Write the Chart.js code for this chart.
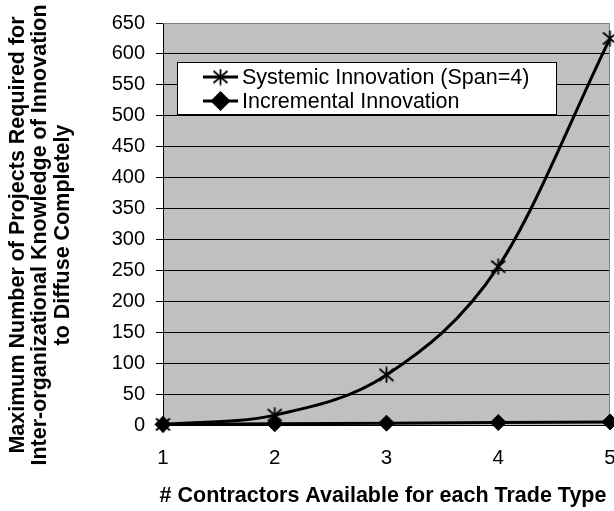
<!DOCTYPE html>
<html><head><meta charset="utf-8">
<script src="https://cdn.jsdelivr.net/npm/chart.js@4.4.1/dist/chart.umd.min.js"></script>
<style>html,body{margin:0;padding:0;background:#fff;overflow:hidden}#wrap{width:614px;height:511px;position:relative}canvas{display:block}</style>
</head><body><div id="wrap"><canvas id="c" width="614" height="511"></canvas></div>
<script>
// ---- data ----
const contractors = [1, 2, 3, 4, 5];
const systemicValues = [1, 16, 81, 256, 625];
const incrementalValues = [1, 2, 3, 4, 5];
const seriesNames = ['Systemic Innovation (Span=4)', 'Incremental Innovation'];
const yTickValues = [0, 50, 100, 150, 200, 250, 300, 350, 400, 450, 500, 550, 600, 650];
const xTickValues = [1, 2, 3, 4, 5];
const xTitle = '# Contractors Available for each Trade Type';
const yTitleLines = ['Maximum Number of Projects Required for', 'Inter-organizational Knowledge of Innovation', 'to Diffuse Completely'];

const FONT = "'Liberation Sans', Arial, sans-serif";

function makeStar() {
  const c = document.createElement('canvas');
  c.width = 17; c.height = 17;
  const g = c.getContext('2d');
  g.strokeStyle = '#000'; g.lineWidth = 1.8;
  g.beginPath();
  g.moveTo(8.5, 0.5); g.lineTo(8.5, 16.5);
  g.moveTo(1.5, 2.5); g.lineTo(15.5, 14.5);
  g.moveTo(15.5, 2.5); g.lineTo(1.5, 14.5);
  g.stroke();
  return c;
}
const starImg = makeStar();

const toXY = (xs, ys) => xs.map((x, i) => ({x: x, y: ys[i]}));

const bgPlugin = {
  id: 'bg',
  beforeDraw(chart) {
    const {ctx, chartArea: a} = chart;
    ctx.save();
    ctx.fillStyle = '#fff';
    ctx.fillRect(0, 0, chart.width, chart.height);
    ctx.fillStyle = '#C0C0C0';
    ctx.fillRect(a.left, a.top, a.right - a.left, a.bottom - a.top);
    ctx.restore();
  },
  beforeDatasetsDraw(chart) {
    const {ctx, chartArea: a} = chart;
    ctx.save();
    ctx.strokeStyle = '#808080'; ctx.lineWidth = 1;
    ctx.beginPath();
    ctx.moveTo(a.left, a.top + 0.5); ctx.lineTo(a.right - 0.5, a.top + 0.5); ctx.lineTo(a.right - 0.5, a.bottom);
    ctx.stroke();
    ctx.restore();
  }
};

const titlePlugin = {
  id: 'titles',
  afterDraw(chart) {
    const {ctx} = chart;
    ctx.save();
    ctx.fillStyle = '#000';
    ctx.font = 'bold 21.5px ' + FONT;
    ctx.textAlign = 'center';
    ctx.textBaseline = 'middle';
    ctx.fillText(xTitle, 383, 496);
    ctx.save();
    ctx.translate(0, 235);
    ctx.rotate(-Math.PI / 2);
    yTitleLines.forEach((t, i) => ctx.fillText(t, 0, 18 + i * 22.5));
    ctx.restore();
    ctx.restore();
  }
};

const legendPlugin = {
  id: 'boxLegend',
  afterDraw(chart) {
    const {ctx} = chart;
    const x0 = 177.5, y0 = 62.5, w = 379, h = 52;
    ctx.save();
    ctx.fillStyle = '#fff';
    ctx.fillRect(x0, y0, w, h);
    ctx.strokeStyle = '#000'; ctx.lineWidth = 1;
    ctx.strokeRect(x0, y0, w, h);
    const rows = [77, 101];
    chart.data.datasets.forEach((ds, i) => {
      const y = rows[i];
      ctx.strokeStyle = '#000';
      ctx.lineWidth = ds.borderWidth;
      ctx.beginPath(); ctx.moveTo(203, y); ctx.lineTo(238, y); ctx.stroke();
      ctx.fillStyle = '#000';
      Chart.helpers.drawPoint(ctx, {pointStyle: ds.pointStyle, radius: ds.pointRadius, rotation: 0, borderWidth: 1}, 220.5, y);
      ctx.fillStyle = '#000';
      ctx.font = '21.5px ' + FONT;
      ctx.textAlign = 'left'; ctx.textBaseline = 'middle';
      ctx.fillText(ds.label, 242, y + 1);
    });
    ctx.restore();
  }
};

new Chart(document.getElementById('c'), {
  type: 'line',
  data: {
    datasets: [
      {
        label: seriesNames[0],
        data: toXY(contractors, systemicValues),
        borderColor: '#000', borderWidth: 3,
        pointStyle: starImg, pointRadius: 8,
        pointBackgroundColor: '#000', pointBorderColor: '#000',
        cubicInterpolationMode: 'monotone', clip: false, fill: false
      },
      {
        label: seriesNames[1],
        data: toXY(contractors, incrementalValues),
        borderColor: '#000', borderWidth: 3,
        pointStyle: 'rectRot', pointRadius: 8, pointBorderWidth: 1,
        pointBackgroundColor: '#000', pointBorderColor: '#000',
        tension: 0, clip: false, fill: false
      }
    ]
  },
  options: {
    responsive: false,
    devicePixelRatio: 1,
    animation: false,
    layout: {autoPadding: false, padding: {top: 21, right: 4, left: 0, bottom: 0}},
    plugins: {legend: {display: false}, tooltip: {enabled: false}, title: {display: false}},
    scales: {
      x: {
        type: 'linear', min: 1, max: 5,
        afterBuildTicks(s) { s.ticks = xTickValues.map(v => ({value: v})); },
        afterFit(s) { s.height = 86; s.paddingLeft = 0; s.paddingRight = 0; },
        ticks: {color: '#000', font: {family: FONT, size: 20.5}, padding: 21, maxRotation: 0, autoSkip: false},
        grid: {display: false, drawTicks: false},
        border: {display: true, color: '#000', width: 1}
      },
      y: {
        min: 0, max: 650,
        afterBuildTicks(s) { s.ticks = yTickValues.map(v => ({value: v})); },
        afterFit(s) { s.width = 163; },
        ticks: {color: '#000', font: {family: FONT, size: 20}, padding: 11, autoSkip: false},
        grid: {
          color: (c) => (c.tick && c.tick.value === 650) ? '#808080' : '#000',
          tickColor: '#000', tickLength: 7, lineWidth: 1
        },
        border: {display: true, color: '#000', width: 1}
      }
    }
  },
  plugins: [bgPlugin, titlePlugin, legendPlugin]
});
</script></body></html>
